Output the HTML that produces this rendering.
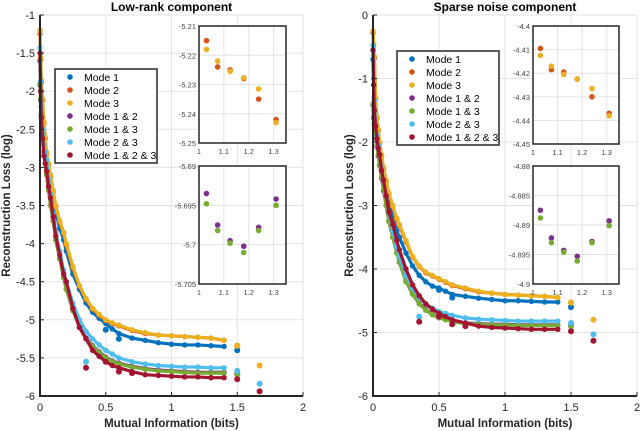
<!DOCTYPE html>
<html><head><meta charset="utf-8"><style>
body{margin:0;background:#fff;}
svg{display:block;font-family:"Liberation Sans",sans-serif;}
</style></head><body>
<svg id="c" width="640" height="431" viewBox="0 0 640 431"></svg>
<script>
const XS=[0,0.005,0.01,0.02,0.03,0.04,0.05,0.065,0.08,0.1,0.12,0.15,0.18,0.2,0.25,0.3,0.35,0.4,0.45,0.5,0.55,0.6,0.7,0.8,0.9,1.0,1.1,1.2,1.3,1.4];
const seriesNames=["Mode 1","Mode 2","Mode 3","Mode 1 & 2","Mode 1 & 3","Mode 2 & 3","Mode 1 & 2 & 3"];
const L_m1=[-1.6,-1.9,-2.2,-2.45,-2.65,-2.8,-2.9,-3.1,-3.25,-3.4,-3.6,-3.8,-3.95,-4.1,-4.4,-4.6,-4.78,-4.9,-4.98,-5.05,-5.12,-5.18,-5.24,-5.27,-5.3,-5.32,-5.33,-5.33,-5.34,-5.35];
const L_m2=[-1.25,-1.58,-1.88,-2.12,-2.42,-2.62,-2.82,-2.97,-3.12,-3.32,-3.52,-3.72,-3.87,-4.02,-4.32,-4.56,-4.73,-4.86,-4.94,-5.01,-5.05,-5.08,-5.14,-5.18,-5.2,-5.21,-5.22,-5.23,-5.24,-5.27];
const L_m3=[-1.2,-1.55,-1.85,-2.1,-2.4,-2.6,-2.8,-2.95,-3.1,-3.3,-3.5,-3.7,-3.85,-4.0,-4.3,-4.55,-4.72,-4.85,-4.93,-5.0,-5.04,-5.07,-5.13,-5.17,-5.2,-5.21,-5.22,-5.23,-5.24,-5.27];
const L_m12=[-1.92,-2.12,-2.32,-2.56,-2.8,-2.95,-3.1,-3.3,-3.5,-3.7,-3.95,-4.2,-4.44,-4.6,-4.87,-5.09,-5.24,-5.34,-5.42,-5.49,-5.54,-5.57,-5.61,-5.64,-5.66,-5.67,-5.68,-5.69,-5.69,-5.69];
const L_m13=[-1.9,-2.1,-2.3,-2.55,-2.8,-2.95,-3.1,-3.3,-3.5,-3.7,-3.95,-4.2,-4.45,-4.6,-4.88,-5.1,-5.25,-5.35,-5.43,-5.5,-5.55,-5.58,-5.62,-5.65,-5.67,-5.68,-5.69,-5.7,-5.7,-5.7];
const L_m23=[-1.43,-1.87,-2.2,-2.5,-2.7,-2.8,-2.9,-3.15,-3.35,-3.6,-3.85,-4.1,-4.35,-4.5,-4.78,-5.0,-5.15,-5.25,-5.33,-5.4,-5.45,-5.5,-5.55,-5.58,-5.6,-5.61,-5.62,-5.62,-5.63,-5.63];
const L_m123=[-1.5,-2.0,-2.35,-2.62,-2.85,-2.95,-3.05,-3.25,-3.4,-3.65,-3.9,-4.15,-4.4,-4.5,-4.85,-5.1,-5.25,-5.4,-5.48,-5.55,-5.6,-5.63,-5.68,-5.72,-5.73,-5.74,-5.75,-5.75,-5.76,-5.76];
const L_extraX=[[1.5,0.5,0.6],[1.5],[1.5,1.67],[1.5],[1.5],[1.5,1.67,0.35],[1.5,1.67,0.35,0.5,0.6,0.7]];
const L_extraY=[[-5.4,-5.13,-5.25],[-5.34],[-5.34,-5.6],[-5.71],[-5.72],[-5.67,-5.84,-5.55],[-5.78,-5.94,-5.63,-5.55,-5.68,-5.7]];
const R_m1=[-0.7,-1.0,-1.3,-1.6,-1.85,-2.0,-2.15,-2.35,-2.55,-2.75,-2.95,-3.2,-3.4,-3.5,-3.75,-3.95,-4.1,-4.2,-4.27,-4.3,-4.35,-4.4,-4.43,-4.46,-4.48,-4.5,-4.5,-4.51,-4.52,-4.52];
const R_m2=[-0.28,-0.48,-0.68,-1.32,-1.62,-1.82,-2.02,-2.22,-2.42,-2.62,-2.82,-3.02,-3.22,-3.32,-3.57,-3.81,-3.96,-4.06,-4.11,-4.16,-4.21,-4.26,-4.31,-4.36,-4.38,-4.4,-4.41,-4.42,-4.43,-4.45];
const R_m3=[-0.25,-0.45,-0.65,-1.3,-1.6,-1.8,-2.0,-2.2,-2.4,-2.6,-2.8,-3.0,-3.2,-3.3,-3.55,-3.8,-3.95,-4.05,-4.1,-4.15,-4.2,-4.25,-4.3,-4.35,-4.38,-4.4,-4.41,-4.42,-4.43,-4.45];
const R_m12=[-1.42,-1.62,-1.72,-1.92,-2.07,-2.22,-2.37,-2.57,-2.77,-3.0,-3.25,-3.5,-3.74,-3.89,-4.19,-4.39,-4.54,-4.64,-4.71,-4.76,-4.79,-4.82,-4.85,-4.86,-4.87,-4.87,-4.88,-4.88,-4.88,-4.88];
const R_m13=[-1.4,-1.6,-1.7,-1.9,-2.05,-2.2,-2.35,-2.55,-2.75,-3.0,-3.25,-3.5,-3.75,-3.9,-4.2,-4.4,-4.55,-4.65,-4.72,-4.77,-4.8,-4.83,-4.86,-4.87,-4.88,-4.88,-4.89,-4.89,-4.89,-4.89];
const R_m23=[-0.48,-1.0,-1.35,-1.7,-1.9,-2.05,-2.2,-2.4,-2.6,-2.85,-3.1,-3.4,-3.65,-3.8,-4.1,-4.3,-4.45,-4.55,-4.62,-4.67,-4.7,-4.73,-4.77,-4.79,-4.8,-4.81,-4.82,-4.82,-4.82,-4.82];
const R_m123=[-0.55,-1.1,-1.5,-1.75,-1.95,-2.1,-2.2,-2.45,-2.6,-2.85,-3.1,-3.3,-3.55,-3.7,-4.0,-4.25,-4.42,-4.55,-4.63,-4.7,-4.75,-4.8,-4.85,-4.9,-4.92,-4.93,-4.94,-4.95,-4.95,-4.95];
const R_extraX=[[1.5,0.5,0.6],[1.5],[1.5,1.67],[1.5],[1.5],[1.5,1.67,0.35],[1.5,1.67,0.35,0.5,0.6,0.7]];
const R_extraY=[[-4.6,-4.33,-4.45],[-4.53],[-4.53,-4.8],[-4.89],[-4.9],[-4.85,-5.03,-4.75],[-4.98,-5.13,-4.83,-4.75,-4.87,-4.9]];
const INS_X=[1.03,1.075,1.125,1.18,1.24,1.31];
const LT_m2=[-5.215,-5.224,-5.225,-5.228,-5.235,-5.242];
const LT_m3=[-5.218,-5.222,-5.2255,-5.2277,-5.2315,-5.243];
const LB_m12=[-5.6935,-5.6975,-5.6995,-5.7002,-5.6978,-5.6942];
const LB_m13=[-5.6948,-5.6982,-5.6998,-5.701,-5.6982,-5.695];
const RT_m2=[-4.4095,-4.4185,-4.4195,-4.4225,-4.43,-4.437];
const RT_m3=[-4.4125,-4.417,-4.4205,-4.4225,-4.4265,-4.438];
const RB_m12=[-4.8875,-4.8922,-4.8943,-4.8953,-4.8928,-4.8893];
const RB_m13=[-4.8888,-4.8930,-4.8946,-4.8961,-4.8930,-4.8901];
const LY_TICKS=["-1","-1.5","-2","-2.5","-3","-3.5","-4","-4.5","-5","-5.5","-6"];
const RY_TICKS=["0","-1","-2","-3","-4","-5","-6"];
const X_TICKS=["0","0.5","1","1.5","2"];
const INS_XT=["1","1.1","1.2","1.3"];
const LT_YT=["-5.21","-5.22","-5.23","-5.24","-5.25"];
const LB_YT=["-5.69","-5.695","-5.7","-5.705"];
const RT_YT=["-4.4","-4.41","-4.42","-4.43","-4.44","-4.45"];
const RB_YT=["-4.88","-4.885","-4.89","-4.895","-4.9"];

const COLORS=["#0072BD","#D95319","#EDB120","#7E2F8E","#77AC30","#4DBEEE","#A2142F"];
const svg=document.getElementById('c');
const NS="http://www.w3.org/2000/svg";
function mk(t,a,p){const e=document.createElementNS(NS,t);for(const k in a)e.setAttribute(k,a[k]);(p||svg).appendChild(e);return e;}
function txt(s,a,p){const e=mk('text',a,p);e.textContent=s;return e;}

function panel(o){
  const g=mk('g',{});
  
  
  const sx=v=>o.x0+(v-o.xmin)/(o.xmax-o.xmin)*(o.x1-o.x0);
  const sy=v=>o.y0+(o.ymax-v)/(o.ymax-o.ymin)*(o.y1-o.y0);
  X_TICKS.forEach(t=>{const v=+t;const gl=mk('line',{x1:sx(v),x2:sx(v),y1:o.y0,y2:o.y1,stroke:'#e3e3e3','stroke-width':1},g);});
  o.yt.forEach(t=>{const v=+t;const gl=mk('line',{x1:o.x0,x2:o.x1,y1:sy(v),y2:sy(v),stroke:'#e3e3e3','stroke-width':1},g);});
  mk('line',{x1:o.x1,x2:o.x1,y1:o.y0,y2:o.y1,stroke:'#e0e0e0'},g);
  mk('line',{x1:o.x0,x2:o.x1,y1:o.y0,y2:o.y0,stroke:'#e0e0e0'},g);
  o.series.forEach((ys,i)=>{
    const sg=mk('g',{},g);
    
    
    const pts=XS.map((x,j)=>sx(x)+','+sy(ys[j])).join(' ');
    mk('polyline',{points:pts,fill:'none',stroke:COLORS[i],'stroke-width':3.2,'stroke-linecap':'round','stroke-linejoin':'round'},sg);
    XS.forEach((x,j)=>{const c=mk('circle',{cx:sx(x),cy:sy(ys[j]),r:2.7,fill:COLORS[i]},sg);});
    o.ex[i].forEach((x,j)=>{const c=mk('circle',{cx:sx(x),cy:sy(o.ey[i][j]),r:3,fill:COLORS[i]},sg);});
  });
  const ax=mk('path',{d:`M${o.x0},${o.y0}V${o.y1}H${o.x1}`,fill:'none',stroke:'#262626','stroke-width':2},g);
  
  X_TICKS.forEach(t=>{const v=+t;mk('line',{x1:sx(v),x2:sx(v),y1:o.y1,y2:o.y1-4,stroke:'#262626'},g);
    const e=txt(t,{x:sx(v),y:o.y1+15,'font-size':11,'text-anchor':'middle',fill:'#262626'},g);});
  o.yt.forEach(t=>{const v=+t;mk('line',{x1:o.x0,x2:o.x0+4,y1:sy(v),y2:sy(v),stroke:'#262626'},g);
    const e=txt(t,{x:o.x0-5,y:sy(v)+4,'font-size':11,'text-anchor':'end',fill:'#262626'},g);});
  let e=txt(o.title,{x:(o.x0+o.x1)/2,y:11,'font-size':12,'font-weight':'bold','text-anchor':'middle',fill:'#000'},g);
  e=txt('Mutual Information (bits)',{x:(o.x0+o.x1)/2,y:427,'font-size':11.5,'font-weight':'bold','text-anchor':'middle',fill:'#262626'},g);
  e=txt('Reconstruction Loss (log)',{x:0,y:0,'font-size':11.5,'font-weight':'bold','text-anchor':'middle',fill:'#262626',transform:`translate(${o.ylx},${(o.y0+o.y1)/2}) rotate(-90)`},g);
  const lg=mk('g',{},g);
  mk('rect',{x:o.lx,y:o.ly,width:102,height:94,fill:'#fff',stroke:'#262626','stroke-width':1.5},lg);
  seriesNames.forEach((n,i)=>{const yy=o.ly+8+i*13;
    const en=mk('g',{},lg);
    mk('circle',{cx:o.lx+15,cy:yy,r:2.8,fill:COLORS[i]},en);
    txt(n,{x:o.lx+29,y:yy+4,'font-size':10.5,fill:'#000'},en);});
  o.insets.forEach(ins=>{
    const ig=mk('g',{},g);
    const ix=v=>ins.x0+(v-1)/0.35*(ins.x1-ins.x0);
    const iy=v=>ins.y0+(ins.ymax-v)/(ins.ymax-ins.ymin)*(ins.y1-ins.y0);
    mk('rect',{x:ins.x0,y:ins.y0,width:ins.x1-ins.x0,height:ins.y1-ins.y0,fill:'#fff'},ig);
    INS_XT.forEach(t=>{const v=+t;mk('line',{x1:ix(v),x2:ix(v),y1:ins.y0,y2:ins.y1,stroke:'#e3e3e3'},ig);
      txt(t,{x:ix(v),y:ins.y1+11,'font-size':7.5,'text-anchor':'middle',fill:'#444'},ig);});
    ins.yt.forEach(t=>{const v=+t;mk('line',{x1:ins.x0,x2:ins.x1,y1:iy(v),y2:iy(v),stroke:'#e3e3e3'},ig);
      txt(t,{x:ins.x0-3,y:iy(v)+3,'font-size':7.5,'text-anchor':'end',fill:'#444'},ig);});
    ins.s.forEach(s=>{INS_X.forEach((x,j)=>{const c=mk('circle',{cx:ix(x),cy:iy(s.v[j]),r:2.8,fill:COLORS[s.c]},ig);});});
    mk('rect',{x:ins.x0,y:ins.y0,width:ins.x1-ins.x0,height:ins.y1-ins.y0,fill:'none',stroke:'#262626','stroke-width':1.5},ig);
  });
}
panel({name:'low-rank-panel',title:'Low-rank component',x0:40,x1:303,y0:15,y1:396,xmin:0,xmax:2,ymin:-6,ymax:-1,yt:LY_TICKS,ylx:10,
  series:[L_m1,L_m2,L_m3,L_m12,L_m13,L_m23,L_m123],ex:L_extraX,ey:L_extraY,lx:55,ly:69,
  insets:[{x0:199,x1:286,y0:26,y1:143,ymin:-5.25,ymax:-5.21,yt:LT_YT,s:[{c:1,v:LT_m2},{c:2,v:LT_m3}]},
          {x0:199,x1:286,y0:166,y1:284,ymin:-5.705,ymax:-5.69,yt:LB_YT,s:[{c:3,v:LB_m12},{c:4,v:LB_m13}]}]});
panel({name:'sparse-noise-panel',title:'Sparse noise component',x0:373,x1:637,y0:15,y1:396,xmin:0,xmax:2,ymin:-6,ymax:0,yt:RY_TICKS,ylx:353,
  series:[R_m1,R_m2,R_m3,R_m12,R_m13,R_m23,R_m123],ex:R_extraX,ey:R_extraY,lx:397,ly:51,
  insets:[{x0:533,x1:619,y0:26,y1:144,ymin:-4.45,ymax:-4.4,yt:RT_YT,s:[{c:1,v:RT_m2},{c:2,v:RT_m3}]},
          {x0:533,x1:619,y0:166,y1:284,ymin:-4.9,ymax:-4.88,yt:RB_YT,s:[{c:3,v:RB_m12},{c:4,v:RB_m13}]}]});
</script>
</body></html>
